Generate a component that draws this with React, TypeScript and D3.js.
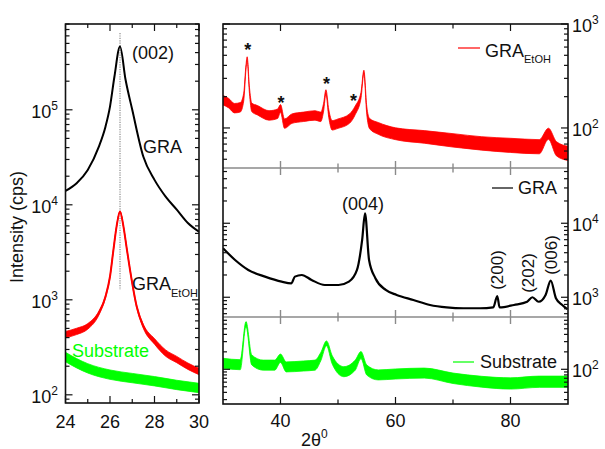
import React from 'react';
import * as d3 from 'd3';

// ---------- DATA ----------
// Left panel: 2θ 24–30, log intensity
const leftX_GRA = [24, 24.5, 25, 25.5, 25.8, 26.0, 26.2, 26.45, 26.7, 27.0, 27.5, 28, 28.5, 29, 29.5, 30];
const leftV_GRA = [14000, 16900, 23300, 41000, 66800, 108000, 224000, 464000, 207000, 100000, 32000, 18300, 12200, 8900, 6430, 5200];

const leftX_EtOH = [24, 24.5, 25, 25.5, 25.8, 26.0, 26.15, 26.3, 26.45, 26.6, 26.75, 26.9, 27.2, 27.5, 28, 28.5, 29, 29.5, 30];
const leftV_EtOH = [430, 465, 525, 725, 1085, 1760, 3300, 6000, 8500, 6000, 3500, 2070, 850, 525, 365, 275, 235, 200, 176];
const leftS_EtOH = [1.08, 1.08, 1.07, 1.05, 1.03, 1.02, 1.01, 1.0, 1.0, 1.0, 1.01, 1.02, 1.03, 1.05, 1.07, 1.08, 1.08, 1.08, 1.08];

const leftX_Sub = [24, 24.5, 25, 26, 27, 28, 29, 30];
const leftV_Sub = [250, 215, 190, 163, 150, 139, 127, 118];
const leftS_Sub = [1.12, 1.12, 1.12, 1.12, 1.12, 1.12, 1.12, 1.12];

// Right panels: 2θ 30–90
const rX_EtOH = [30, 31, 32, 33, 33.6, 34.0, 34.2, 34.6, 35, 36, 38, 39.5, 40, 40.7, 42, 44, 46, 47, 47.5, 47.9, 48.4, 49, 50, 52, 53, 54, 54.5, 55, 55.5, 57, 60, 65, 70, 75, 80, 85, 86.6, 88, 90];
const rV_EtOH = [185, 173, 155, 158, 198, 386, 465, 230, 158, 148, 132, 137, 154, 110, 123, 128, 132, 128, 159, 222, 137, 106, 110, 123, 148, 206, 345, 148, 110, 99, 88, 82, 76, 71, 68, 66, 88, 63, 57];
const rS_EtOH = [1.11, 1.11, 1.11, 1.11, 1.09, 1.05, 1.04, 1.07, 1.1, 1.11, 1.11, 1.11, 1.09, 1.11, 1.11, 1.11, 1.11, 1.11, 1.09, 1.05, 1.09, 1.11, 1.11, 1.11, 1.1, 1.07, 1.04, 1.09, 1.12, 1.14, 1.14, 1.15, 1.16, 1.16, 1.17, 1.17, 1.13, 1.17, 1.17];

const rX_GRA = [30, 32.1, 34.4, 37.3, 40.2, 41.9, 42.5, 43.7, 45.4, 47.7, 50.1, 51.9, 53.3, 54.2, 54.7, 55.4, 56.5, 58.3, 60.2, 63.1, 66, 68.9, 71.8, 74.7, 77, 77.7, 78.1, 80.6, 82.9, 83.8, 84.9, 86.1, 87, 87.9, 89, 89.9];
const rV_GRA = [4590, 3190, 2340, 1900, 1625, 1545, 1900, 2000, 1715, 1465, 1465, 1625, 2340, 5950, 13600, 3190, 1810, 1255, 1075, 920, 787, 730, 710, 710, 730, 1040, 730, 787, 870, 1000, 870, 1075, 1680, 970, 787, 690];

const rX_Sub = [30, 33, 34, 35, 37, 39, 40, 41, 44, 46, 47, 48, 49, 51, 53, 54, 55, 57, 60, 65, 70, 75, 80, 85, 90];
const rV_Sub = [127, 120, 604, 145, 118, 118, 155, 110, 114, 118, 165, 280, 145, 91, 118, 176, 97, 80, 83, 86, 70, 61, 57, 61, 61];
const rS_Sub = [1.22, 1.22, 1.1, 1.22, 1.22, 1.22, 1.18, 1.22, 1.22, 1.22, 1.18, 1.1, 1.18, 1.22, 1.22, 1.15, 1.22, 1.22, 1.22, 1.22, 1.23, 1.24, 1.25, 1.25, 1.25];

const leftXTicks = [24, 26, 28, 30];
const rightXTicks = [40, 60, 80];
const asteriskX = [34.3, 40.1, 48.0, 52.7];
const asteriskV = [620, 190, 290, 200];

// ---------- LAYOUT ----------
const W = 605, H = 449;
const L = { x0: 65.5, x1: 199, y0: 24, y1: 403 };
const R = { x0: 223, x1: 568, yTop: 24, yMid: 168, yBot: 317, y1: 404 };
const FONT = 'Liberation Sans, Arial, sans-serif';
const GRAY = '#8a8a8a';

const xL = d3.scaleLinear().domain([24, 30]).range([L.x0, L.x1]);
const yL = d3.scaleLog().domain([82, 8e5]).range([L.y1, L.y0]);
const xR = d3.scaleLinear().domain([30, 90]).range([R.x0, R.x1]);
const yTop = d3.scaleLog().domain([41.2, 1000]).range([R.yMid, R.yTop]);
const yMidS = d3.scaleLog().domain([541, 55800]).range([R.yBot, R.yMid]);
const yBotS = d3.scaleLog().domain([25.2, 798]).range([R.y1, R.yBot]);

type Sc = d3.ScaleLogarithmic<number, number>;

function logTicks(scale: Sc) {
  const [a, b] = scale.domain();
  const out: { v: number; major: boolean }[] = [];
  for (let d = Math.floor(Math.log10(a)); d <= Math.ceil(Math.log10(b)); d++) {
    for (let m = 1; m <= 9; m++) {
      const v = m * Math.pow(10, d);
      if (v >= a && v <= b) out.push({ v, major: m === 1 });
    }
  }
  return out;
}

function YTicks({ scale, xa, xb, prefix }: { scale: Sc; xa: number; xb: number; prefix: string }) {
  return (
    <g stroke="#111" strokeWidth={1.2}>
      {logTicks(scale).map((t, i) => {
        const y = scale(t.v);
        const len = t.major ? 7 : 4;
        return (
          <g key={prefix + i}>
            <line x1={xa} x2={xa + len} y1={y} y2={y} />
            <line x1={xb} x2={xb - len} y1={y} y2={y} />
          </g>
        );
      })}
    </g>
  );
}

const CURVE = d3.curveMonotoneX;

function bandPath(xs: number[], vs: number[], ss: number[], x: (v: number) => number, y: Sc) {
  const pts = xs.map((xx, i) => [xx, vs[i], ss[i]] as [number, number, number]);
  return d3.area<[number, number, number]>()
    .x(d => x(d[0]))
    .y0(d => y(d[1] / d[2]))
    .y1(d => y(d[1] * d[2]))
    .curve(CURVE)(pts) || '';
}
function linePath(xs: number[], vs: number[], x: (v: number) => number, y: Sc) {
  const pts = xs.map((xx, i) => [xx, vs[i]] as [number, number]);
  return d3.line<[number, number]>().x(d => x(d[0])).y(d => y(d[1])).curve(CURVE)(pts) || '';
}

function Pow({ x, y, e, anchor }: { x: number; y: number; e: number; anchor: 'start' | 'end' }) {
  return (
    <text x={x} y={y} fontSize={18} textAnchor={anchor} fontFamily={FONT} fill="#111">
      10<tspan fontSize={12} dy={-8}>{e}</tspan>
    </text>
  );
}

export default function App() {
  const rPanels = [
    { y0: R.yTop, y1: R.yMid, s: yTop },
    { y0: R.yMid, y1: R.yBot, s: yMidS },
    { y0: R.yBot, y1: R.y1, s: yBotS },
  ];
  return (
    <svg width={W} height={H} style={{ position: 'absolute', left: 0, top: 0, background: '#fff' }}>
      <defs>
        <clipPath id="clipL"><rect x={L.x0} y={L.y0} width={L.x1 - L.x0} height={L.y1 - L.y0} /></clipPath>
        {rPanels.map((p, i) => (
          <clipPath id={'clipR' + i} key={i}><rect x={R.x0} y={p.y0} width={R.x1 - R.x0} height={p.y1 - p.y0} /></clipPath>
        ))}
      </defs>

      {/* ---------- LEFT PANEL ---------- */}
      <g clipPath="url(#clipL)">
        <line x1={xL(26.45)} x2={xL(26.45)} y1={33} y2={290} stroke={GRAY} strokeWidth={1.2} strokeDasharray="1.2,1.2" />
        <path d={bandPath(leftX_Sub, leftV_Sub, leftS_Sub, xL, yL)} fill="#00ff00" stroke="#00ff00" strokeWidth={0.8} />
        <path d={bandPath(leftX_EtOH, leftV_EtOH, leftS_EtOH, xL, yL)} fill="#ff0000" stroke="#ff0000" strokeWidth={0.8} />
        <path d={linePath(leftX_EtOH, leftV_EtOH, xL, yL)} fill="none" stroke="#ff0000" strokeWidth={2} />
        <path d={linePath(leftX_GRA, leftV_GRA, xL, yL)} fill="none" stroke="#000" strokeWidth={2} />
      </g>
      <YTicks scale={yL} xa={L.x0} xb={L.x1} prefix="l" />
      {d3.range(24, 30.01, 1).map(v => {
        const major = leftXTicks.includes(v);
        const len = major ? 7 : 4;
        return (
          <g key={'lx' + v} stroke="#111" strokeWidth={1.2}>
            <line x1={xL(v)} x2={xL(v)} y1={L.y1} y2={L.y1 - len} />
            <line x1={xL(v)} x2={xL(v)} y1={L.y0} y2={L.y0 + len} />
          </g>
        );
      })}
      <rect x={L.x0} y={L.y0} width={L.x1 - L.x0} height={L.y1 - L.y0} fill="none" stroke="#111" strokeWidth={1.6} />
      {leftXTicks.map(v => (
        <text key={'lxt' + v} x={xL(v)} y={428} fontSize={18} textAnchor="middle" fontFamily={FONT} fill="#111">{v}</text>
      ))}
      {[2, 3, 4, 5].map(e => (
        <Pow key={'lyt' + e} x={58} y={yL(Math.pow(10, e)) + 8} e={e} anchor="end" />
      ))}
      <text transform="translate(23,227) rotate(-90)" fontSize={18} textAnchor="middle" fontFamily={FONT} fill="#111">Intensity (cps)</text>
      <text x={153} y={59} fontSize={18} textAnchor="middle" fontFamily={FONT} fill="#111">(002)</text>
      <text x={143} y={153} fontSize={18} fontFamily={FONT} fill="#111">GRA</text>
      <text x={132} y={290} fontSize={18} fontFamily={FONT} fill="#111">GRA<tspan fontSize={11} dy={7}>EtOH</tspan></text>
      <text x={72} y={357} fontSize={18} fontFamily={FONT} fill="#00ff00">Substrate</text>

      {/* ---------- RIGHT PANELS ---------- */}
      <g clipPath="url(#clipR0)">
        <path d={bandPath(rX_EtOH, rV_EtOH, rS_EtOH, xR, yTop)} fill="#ff0000" stroke="#ff0000" strokeWidth={0.8} />
      </g>
      <g clipPath="url(#clipR1)">
        <path d={linePath(rX_GRA, rV_GRA, xR, yMidS)} fill="none" stroke="#000" strokeWidth={2.2} />
      </g>
      <g clipPath="url(#clipR2)">
        <path d={bandPath(rX_Sub, rV_Sub, rS_Sub, xR, yBotS)} fill="#00ff00" stroke="#00ff00" strokeWidth={0.8} />
      </g>

      {rPanels.map((p, i) => <YTicks key={'ry' + i} scale={p.s} xa={R.x0} xb={R.x1} prefix={'r' + i} />)}

      {d3.range(40, 81, 10).map(v => {
        const major = rightXTicks.includes(v);
        const len = major ? 7 : 4.5;
        return (
          <g key={'rx' + v}>
            <line x1={xR(v)} x2={xR(v)} y1={R.y1} y2={R.y1 - len} stroke="#111" strokeWidth={1.2} />
            <line x1={xR(v)} x2={xR(v)} y1={R.yTop} y2={R.yTop + len} stroke="#111" strokeWidth={1.2} />
            <line x1={xR(v)} x2={xR(v)} y1={R.yMid - len} y2={R.yMid + len} stroke={GRAY} strokeWidth={1.4} />
            <line x1={xR(v)} x2={xR(v)} y1={R.yBot - len} y2={R.yBot + len} stroke={GRAY} strokeWidth={1.4} />
          </g>
        );
      })}
      <line x1={R.x0} x2={R.x1} y1={R.yMid} y2={R.yMid} stroke={GRAY} strokeWidth={1.6} />
      <line x1={R.x0} x2={R.x1} y1={R.yBot} y2={R.yBot} stroke={GRAY} strokeWidth={1.6} />
      <rect x={R.x0} y={R.yTop} width={R.x1 - R.x0} height={R.y1 - R.yTop} fill="none" stroke="#111" strokeWidth={1.6} />

      {rightXTicks.map(v => (
        <text key={'rxt' + v} x={xR(v)} y={427} fontSize={18} textAnchor="middle" fontFamily={FONT} fill="#111">{v}</text>
      ))}
      <text x={301} y={446} fontSize={18} fontFamily={FONT} fill="#111">2θ<tspan fontSize={12} dy={-8}>0</tspan></text>

      <Pow x={572} y={yTop(1000) + 8} e={3} anchor="start" />
      <Pow x={572} y={yTop(100) + 8} e={2} anchor="start" />
      <Pow x={572} y={yMidS(10000) + 8} e={4} anchor="start" />
      <Pow x={572} y={yMidS(1000) + 8} e={3} anchor="start" />
      <Pow x={572} y={yBotS(100) + 8} e={2} anchor="start" />

      {/* legends */}
      <line x1={458} x2={480} y1={48} y2={48} stroke="#ff0000" strokeWidth={1.2} />
      <text x={485} y={57} fontSize={18} fontFamily={FONT} fill="#111">GRA<tspan fontSize={11} dy={6}>EtOH</tspan></text>
      <line x1={492} x2={513} y1={188} y2={188} stroke="#000" strokeWidth={1.2} />
      <text x={518} y={194} fontSize={18} fontFamily={FONT} fill="#111">GRA</text>
      <line x1={453} x2={474} y1={362} y2={362} stroke="#00ff00" strokeWidth={1.2} />
      <text x={480} y={368} fontSize={18} fontFamily={FONT} fill="#111">Substrate</text>

      {/* peak annotations */}
      <text x={363} y={210} fontSize={18} textAnchor="middle" fontFamily={FONT} fill="#111">(004)</text>
      <text transform="translate(497,270) rotate(-90)" fontSize={17} textAnchor="middle" dominantBaseline="central" fontFamily={FONT} fill="#111">(200)</text>
      <text transform="translate(528,273) rotate(-90)" fontSize={17} textAnchor="middle" dominantBaseline="central" fontFamily={FONT} fill="#111">(202)</text>
      <text transform="translate(551,255) rotate(-90)" fontSize={17} textAnchor="middle" dominantBaseline="central" fontFamily={FONT} fill="#111">(006)</text>
      {asteriskX.map((v, i) => (
        <text key={'ast' + i} x={xR(v)} y={yTop(asteriskV[i]) + 10} fontSize={18} textAnchor="middle" fontFamily={FONT} fontWeight="bold" fill="#111">*</text>
      ))}
    </svg>
  );
}
